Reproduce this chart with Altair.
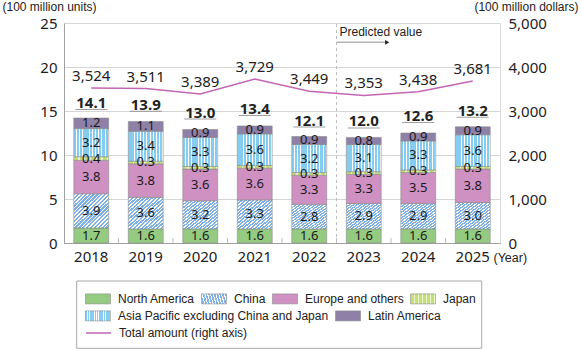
import altair as alt
import pandas as pd

# ---------------- data ----------------
years = ["2018", "2019", "2020", "2021", "2022", "2023", "2024", "2025"]
series = ["North America", "China", "Europe and others", "Japan",
          "Asia Pacific excluding China and Japan", "Latin America"]
north_america = [1.7, 1.6, 1.6, 1.6, 1.6, 1.6, 1.6, 1.6]
china = [3.9, 3.6, 3.2, 3.3, 2.8, 2.9, 2.9, 3.0]
europe_others = [3.8, 3.8, 3.6, 3.6, 3.3, 3.3, 3.5, 3.8]
japan = [0.4, 0.3, 0.3, 0.3, 0.3, 0.3, 0.3, 0.3]
asia_pacific = [3.2, 3.4, 3.3, 3.6, 3.2, 3.1, 3.3, 3.6]
latin_america = [1.2, 1.1, 0.9, 0.9, 0.9, 0.8, 0.9, 0.9]
total_units = [14.1, 13.9, 13.0, 13.4, 12.1, 12.0, 12.6, 13.2]
total_dollars = [3524, 3511, 3389, 3729, 3449, 3353, 3438, 3681]
line_name = "Total amount (right axis)"
predicted_from = "2023"
predicted_label = "Predicted value"

row1 = series[:4]
row2 = series[4:]
all_vals = [north_america, china, europe_others, japan, asia_pacific, latin_america]

seg_rows = []
for si, s in enumerate(series):
    for yi, y in enumerate(years):
        seg_rows.append({"year": y, "series": s, "value": all_vals[si][yi], "order": si})
seg = pd.DataFrame(seg_rows)
tot = pd.DataFrame({"year": years, "units": total_units, "dollars": total_dollars, "name": line_name})
annot = pd.DataFrame({"year": [predicted_from], "label": [predicted_label]})
bounds = pd.DataFrame({"year": years[1:]})
frame = pd.DataFrame({"k": [0]})

# ---------------- styles ----------------
NUM = "Noto Sans"
TXT = "Liberation Sans"
C_NA = "#94cb80"
C_CH = "#7fb1e4"
C_EU = "#cf90c2"
C_JP = "#c6de78"
C_AP = "#85ccef"
C_LA = "#8e80a7"
C_LINE = "#c266b5"
GRID = "#d6d6d6"
AXC = "#a0a0a0"


def stripes(base, line, periods, frac, x2, y2):
    parts = []
    for k in range(periods):
        a = k / periods
        m = (k + 1 - frac) / periods
        b = (k + 1) / periods
        parts += [(a, base), (m, base), (m, line), (b, line)]
    stops = ",".join("{offset:%.4f,color:'%s'}" % (o, c) for o, c in parts)
    return "{gradient:'linear',x1:0,y1:0,x2:%g,y2:%g,stops:[%s]}" % (x2, y2, stops)


G_CH = alt.ExprRef(expr=stripes(C_CH, "#ffffff", 18, 0.4, 1, 1))
G_AP = alt.ExprRef(expr=stripes(C_AP, "#ffffff", 11, 0.3, 1, 0))
G_JP = alt.ExprRef(expr=stripes(C_JP, "#eef6d2", 6, 0.25, 1, 0))

X_AX = alt.Axis(title="(Year)", titleAngle=0, titleX=429, titleY=14, titleAlign="left",
                titleBaseline="middle", titleFont=TXT, titleFontSize=12.5, titleFontWeight="normal",
                titleColor="#222", labelFont=NUM, labelFontSize=15, labelColor="#222",
                labelAngle=0, labelBaseline="middle", labelPadding=13.5, ticks=False,
                domainColor=AXC, grid=False)
X_SC = alt.Scale(domain=years, paddingInner=0, paddingOuter=0)


def X(bp=None):
    if bp is None:
        return alt.X("year:N", scale=X_SC, axis=X_AX, sort=years)
    return alt.X("year:N", scale=X_SC, axis=X_AX, sort=years, bandPosition=bp)


YL_SC = alt.Scale(domain=[0, 25], nice=False, zero=True)
YL_AX = alt.Axis(values=[0, 5, 10, 15, 20, 25], title="(100 million units)", titleAngle=0,
                 titleX=-62, titleY=-17, titleAlign="left", titleBaseline="middle",
                 titleFont=TXT, titleFontSize=12, titleFontWeight="normal", titleColor="#222",
                 labelFont=NUM, labelFontSize=15, labelColor="#222", labelPadding=7,
                 ticks=False, tickSize=0, domainColor=AXC, gridColor=GRID, grid=True)
YR_SC = alt.Scale(domain=[0, 5000], nice=False, zero=True)
YR_AX = alt.Axis(values=[0, 1000, 2000, 3000, 4000, 5000], format=",.0f", orient="right",
                 title="(100 million dollars)", titleAngle=0, titleX=78, titleY=-17,
                 titleAlign="right", titleBaseline="middle", titleFont=TXT, titleFontSize=12,
                 titleFontWeight="normal", titleColor="#222", labelFont=NUM, labelFontSize=15,
                 labelColor="#222", labelPadding=8, ticks=False, tickSize=0, domain=False,
                 grid=False)

LEG = dict(orient="none", direction="horizontal", title=None,
           symbolType="M-1,-0.4H1V0.4H-1Z", symbolSize=625, symbolStrokeColor="#8c8c8c",
           symbolStrokeWidth=0.6, labelFont=TXT, labelFontSize=12, labelColor="#222",
           labelOffset=7, columnPadding=5, padding=0, labelLimit=400, labelBaseline="middle")

base = alt.Chart(seg).transform_stack(
    stack="value", groupby=["year"], as_=["y0", "y1"],
    sort=[alt.SortField("order", order="ascending")]
).transform_calculate(mid="(datum.y0 + datum.y1) / 2")

bars1 = base.transform_filter(alt.FieldOneOfPredicate(field="series", oneOf=row1)).mark_bar(
    width=alt.RelativeBandSize(0.64), stroke="#8a8a8a", strokeWidth=0.6
).encode(
    x=X(),
    y=alt.Y("y0:Q", scale=YL_SC, axis=YL_AX),
    y2="y1:Q",
    fill=alt.Fill("series:N", scale=alt.Scale(domain=row1, range=[C_NA, G_CH, C_EU, G_JP]),
                  legend=alt.Legend(legendX=21, legendY=262.5, **LEG)),
)

bars2 = base.transform_filter(alt.FieldOneOfPredicate(field="series", oneOf=row2)).mark_bar(
    width=alt.RelativeBandSize(0.64), stroke="#8a8a8a", strokeWidth=0.6
).encode(
    x=X(),
    y=alt.Y("y0:Q", scale=YL_SC, axis=YL_AX),
    y2="y1:Q",
    color=alt.Color("series:N", scale=alt.Scale(domain=row2, range=[G_AP, C_LA]),
                    legend=alt.Legend(legendX=21, legendY=279.5, **LEG)),
)

seg_text = base.mark_text(font=NUM, fontSize=13, fill="#1a1a1a", baseline="middle").encode(
    x=X(), y=alt.Y("mid:Q", scale=YL_SC, axis=YL_AX), text=alt.Text("value:Q", format=".1f"))

tot_text = alt.Chart(tot).mark_text(font=NUM, fontSize=15, fontWeight="bold", color="#222",
                                    baseline="middle", dy=-16).encode(
    x=X(), y=alt.Y("units:Q", scale=YL_SC, axis=YL_AX), text=alt.Text("units:Q", format=".1f"))
tot_line = alt.Chart(tot).mark_tick(size=32, thickness=1, color="#777", yOffset=-9.5).encode(
    x=X(), y=alt.Y("units:Q", scale=YL_SC, axis=YL_AX))

btick = alt.Chart(bounds).mark_tick(orient="vertical", size=5, thickness=1, color=AXC,
                                    yOffset=-2.5).encode(
    x=X(0), y=alt.YDatum(0, scale=YL_SC, axis=YL_AX))

dash = alt.Chart(annot).mark_rule(color="#bdbdbd", strokeDash=[3, 3], strokeWidth=1).encode(
    x=X(0), y=alt.YDatum(0, scale=YL_SC, axis=YL_AX), y2=alt.Y2Datum(25.1))
arrow = alt.Chart(annot).mark_rule(color="#b5b5b5", strokeWidth=1.5).encode(
    x=X(0), x2=alt.X2("year:N", bandPosition=0.93), y=alt.YDatum(22.8, scale=YL_SC, axis=YL_AX))
head = alt.Chart(annot).mark_point(shape="triangle-right", filled=True, size=22, color="#222",
                                   opacity=1).encode(
    x=X(0.93), y=alt.YDatum(22.8, scale=YL_SC, axis=YL_AX))
pred = alt.Chart(annot).mark_text(font=TXT, fontSize=12, color="#222", align="left",
                                  baseline="middle", dx=3).encode(
    x=X(0), y=alt.YDatum(23.95, scale=YL_SC, axis=YL_AX), text="label:N")

box = alt.Chart(frame).mark_rect(fill="transparent", stroke="#a8a8a8", strokeWidth=1).encode(
    x=alt.value(12.7), x2=alt.value(417.7), y=alt.value(258), y2=alt.value(325.3))

left = alt.layer(bars1, bars2, seg_text, tot_line, tot_text, btick, dash, arrow,
                 head, pred, box)

line = alt.Chart(tot).mark_line(strokeWidth=1.5).encode(
    x=X(),
    y=alt.Y("dollars:Q", scale=YR_SC, axis=YR_AX),
    stroke=alt.Stroke("name:N", scale=alt.Scale(domain=[line_name], range=[C_LINE]),
                      legend=alt.Legend(orient="none", direction="horizontal", title=None,
                                        legendX=21, legendY=296.5, symbolType="stroke",
                                        symbolSize=625, symbolStrokeWidth=1.5, labelFont=TXT,
                                        labelFontSize=12, labelColor="#222", labelOffset=7,
                                        padding=0, labelLimit=400, labelBaseline="middle")),
)
line_text = alt.Chart(tot).mark_text(font=NUM, fontSize=15, color="#222", baseline="middle",
                                     dy=-12).encode(
    x=X(), y=alt.Y("dollars:Q", scale=YR_SC, axis=YR_AX),
    text=alt.Text("dollars:Q", format=","))

right = alt.layer(line, line_text)

chart = alt.layer(left, right).resolve_scale(y="independent").properties(
    width=436, height=220,
    autosize=alt.AutoSizeParams(type="none"),
    padding={"left": 64, "top": 23, "right": 81, "bottom": 106},
).configure_view(stroke=None).configure(background="white")

chart.save("out.html", embed_options={"renderer": "svg", "actions": False})
